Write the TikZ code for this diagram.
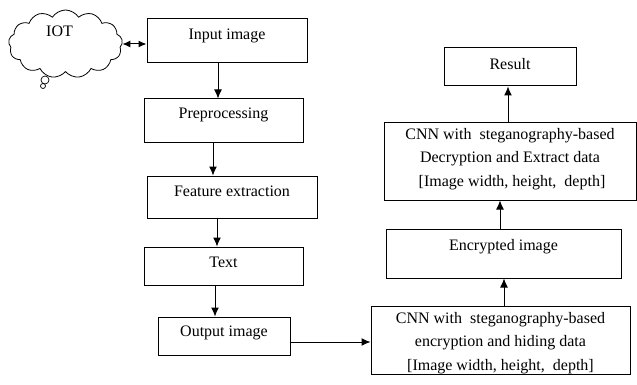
\documentclass[tikz,border=0pt]{standalone}
\usepackage{fontspec}
\setmainfont{Liberation Serif}
\usetikzlibrary{shapes.symbols,arrows.meta}
\begin{document}
\begin{tikzpicture}[x=1pt,y=-1pt,
  box/.style={draw,line width=1pt,inner sep=0pt,font=\fontsize{16}{23.5}\selectfont},
  txtl/.style={font=\fontsize{16}{23.5}\selectfont,align=center,inner sep=0pt},
  arr/.style={line width=1pt,-{Latex[length=9pt,width=8pt]}}]
\useasboundingbox (0,0) rectangle (637,385);
% cloud
\node[cloud,draw,line width=0.8pt,cloud puffs=13,cloud puff arc=115,cloud ignores aspect,
      minimum width=114pt,minimum height=68pt,inner sep=0pt] (iot) at (65.5,44) {};
\node[txtl] (iott) at (59.5,31.5) {IOT};
\node[circle,draw,line width=0.7pt,minimum size=8pt,inner sep=0pt] (b1) at (45,80) {};
\node[circle,draw,line width=0.7pt,minimum size=5pt,inner sep=0pt] (b2) at (43,86) {};
% left column
\node[box,minimum width=160pt,minimum height=44pt,label={[txtl,yshift=5.5pt]center:Input image}] (inp) at (227,41) {};
\node[box,minimum width=159pt,minimum height=44pt,label={[txtl,yshift=6pt]center:Preprocessing}] (pre) at (223.5,121) {};
\node[box,minimum width=170pt,minimum height=42pt,label={[txtl,yshift=6pt]center:Feature extraction}] (fea) at (232,197) {};
\node[box,minimum width=159pt,minimum height=38pt,label={[txtl,yshift=4pt]center:Text}] (txt) at (223.5,266) {};
\node[box,minimum width=132pt,minimum height=38pt,label={[txtl,yshift=3pt]center:Output image}] (out) at (224,336) {};
% right column
\node[box,minimum width=132pt,minimum height=38pt,label={[txtl,yshift=3pt]center:Result}] (res) at (510,67) {};
\node[box,minimum width=252pt,minimum height=77pt,label={[txtl,yshift=2.5pt]center:CNN with\ \ steganography-based\\Decryption and Extract data\\\ [Image width, height,\ \ depth]}] (dec) at (510,161.5) {};
\node[box,minimum width=235pt,minimum height=49pt,label={[txtl,yshift=6.5pt]center:Encrypted image}] (eimg) at (503.5,253.5) {};
\node[box,minimum width=259pt,minimum height=68pt,label={[txtl,yshift=-3pt]center:CNN with\ \ steganography-based\\encryption and hiding data\\\relax [Image width, height,\ \ depth]}] (enc) at (500.5,340) {};
% connectors
\draw[line width=1pt,{Latex[length=8pt,width=7pt]}-{Latex[length=8pt,width=7pt]}] (iot.east) -- (iot.east -| inp.west);
\draw[arr] ([xshift=-9pt]inp.south) -- ([xshift=-9pt]inp.south |- pre.north);
\draw[arr] ([xshift=-10.5pt]pre.south) -- ([xshift=-10.5pt]pre.south |- fea.north);
\draw[arr] ([xshift=-15pt]fea.south) -- ([xshift=-15pt]fea.south |- txt.north);
\draw[arr] ([xshift=-8.5pt]txt.south) -- ([xshift=-8.5pt]txt.south |- out.north);
\draw[arr] ([yshift=-6pt]out.east) -- ([yshift=-6pt]out.east -| enc.west);
\draw[arr] ([xshift=3.5pt]enc.north) -- ([xshift=3.5pt]enc.north |- eimg.south);
\draw[arr] ([xshift=-3.5pt]eimg.north) -- ([xshift=-3.5pt]eimg.north |- dec.south);
\draw[arr] ([xshift=-2pt]dec.north) -- ([xshift=-2pt]dec.north |- res.south);
\end{tikzpicture}
\end{document}
